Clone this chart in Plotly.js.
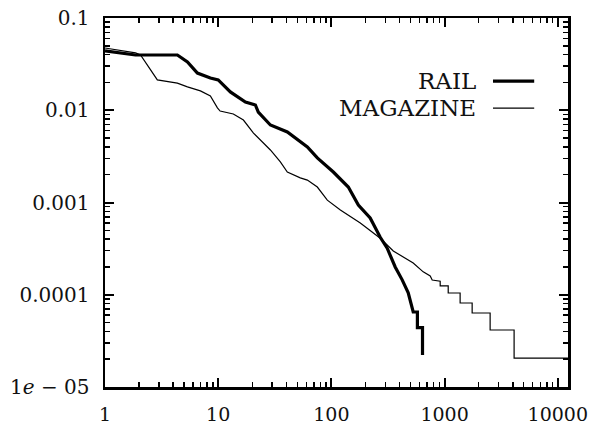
<!DOCTYPE html>
<html>
<head>
<meta charset="utf-8">
<script src="https://cdn.plot.ly/plotly-3.0.1.min.js"></script>
<style>html,body{margin:0;padding:0;background:#fff;}#chart{width:593px;height:425px;}</style>
</head>
<body>
<div id="chart"></div>
<script>
const seriesNames = ["RAIL", "MAGAZINE"];
const railX = [1, 1.86, 4.36, 5.35, 6.55, 8.53, 10, 12.8, 17.4, 21.3, 22.6, 28.9, 40.8, 61.3, 75.1, 104, 141, 173, 220, 270, 311, 366, 422, 477, 528, 575, 575, 638, 638];
const railY = [0.044, 0.0397, 0.0397, 0.0334, 0.0253, 0.0224, 0.0213, 0.0158, 0.0123, 0.0114, 0.00957, 0.00692, 0.00581, 0.0040, 0.00304, 0.00214, 0.00147, 0.00094, 0.00068, 0.00042, 0.00032, 0.0002, 0.000145, 0.000105, 6.5e-5, 6.5e-5, 4.4e-5, 4.4e-5, 2.22e-5];
const magX = [1, 1.86, 2.06, 2.9, 4.36, 5.35, 6.96, 8.53, 9.84, 10.4, 13.6, 16.7, 20.5, 28.9, 35.4, 40.8, 53.1, 61.3, 75.1, 92, 120, 180, 270, 352, 528, 647, 746, 777, 914, 914, 1076, 1076, 1371, 1371, 1751, 1751, 2524, 2524, 4110, 4110, 12300];
const magY = [0.0473, 0.0418, 0.0397, 0.0213, 0.0197, 0.0179, 0.0162, 0.0143, 0.0106, 0.0098, 0.0091, 0.00783, 0.00566, 0.00371, 0.00275, 0.00214, 0.00185, 0.00175, 0.00147, 0.00106, 0.00083, 0.0006, 0.00041, 0.000298, 0.000221, 0.000177, 0.00016, 0.0001445, 0.00014, 0.0001245, 0.0001245, 0.0001045, 0.0001045, 8.14e-5, 8.14e-5, 6.34e-5, 6.34e-5, 4.15e-5, 4.15e-5, 2.06e-5, 2.06e-5];
const xTickVals = [1, 10, 100, 1000, 10000];
const xTickText = ["1", "10", "100", "1000", "10000"];
const yTickVals = [1e-5, 1e-4, 1e-3, 1e-2, 1e-1];
const yTickText = ["1<i>e</i> − 05", "0.0001", "0.001", "0.01", "0.1"];

function minorTicks(decades) {
  const out = [];
  decades.forEach(function (d) { for (let k = 2; k <= 9; k++) out.push(k * d); });
  return out;
}
const xMinor = minorTicks([1, 10, 100, 1000, 10000]);
const yMinor = minorTicks([1e-5, 1e-4, 1e-3, 1e-2]);

const traces = [
  {x: railX, y: railY, mode: "lines", name: seriesNames[0], line: {color: "#000", width: 3.2}, xaxis: "x", yaxis: "y"},
  {x: magX, y: magY, mode: "lines", name: seriesNames[1], line: {color: "#000", width: 1.2}, xaxis: "x2", yaxis: "y2"}
];
const xRange = [0, 4.09], yRange = [-5, -1];
function axis(extra, minorVals, fsize) {
  return Object.assign({
    type: "log", showgrid: false, zeroline: false, showline: true, linecolor: "#000", linewidth: 2.5,
    ticks: "inside", ticklen: 9, tickwidth: 2, tickcolor: "#000", tickmode: "array",
    minor: {ticks: "inside", ticklen: 5, tickwidth: 1.5, tickcolor: "#000", showgrid: false, tickmode: "array", tickvals: minorVals},
    tickfont: {family: "DejaVu Serif", size: fsize, color: "#111"}
  }, extra);
}
const layout = {
  width: 593, height: 425,
  margin: {l: 105, r: 25, t: 18, b: 38},
  paper_bgcolor: "#fff", plot_bgcolor: "#fff",
  showlegend: false,
  xaxis: axis({range: xRange, tickvals: xTickVals, ticktext: xTickText, ticklabelstandoff: 9}, xMinor, 19),
  yaxis: axis({range: yRange, tickvals: yTickVals, ticktext: yTickText, ticklabelstandoff: 9}, yMinor, 20),
  xaxis2: axis({range: xRange, tickvals: xTickVals, showticklabels: false, overlaying: "x", side: "top", anchor: "y2"}, xMinor, 19),
  yaxis2: axis({range: yRange, tickvals: yTickVals, showticklabels: false, overlaying: "y", side: "right", anchor: "x2"}, yMinor, 20),
  annotations: [
    {xref: "paper", yref: "paper", x: 0.806, y: 0.829, xanchor: "right", yanchor: "middle", text: seriesNames[0], showarrow: false, font: {family: "DejaVu Serif", size: 23, color: "#111"}},
    {xref: "paper", yref: "paper", x: 0.806, y: 0.756, xanchor: "right", yanchor: "middle", text: seriesNames[1], showarrow: false, font: {family: "DejaVu Serif", size: 23, color: "#111"}}
  ],
  shapes: [
    {type: "line", xref: "paper", yref: "paper", x0: 0.838, x1: 0.927, y0: 0.829, y1: 0.829, line: {color: "#000", width: 3.2}},
    {type: "line", xref: "paper", yref: "paper", x0: 0.838, x1: 0.927, y0: 0.756, y1: 0.756, line: {color: "#000", width: 1.2}}
  ]
};
Plotly.newPlot("chart", traces, layout, {staticPlot: true, displayModeBar: false});
</script>
</body>
</html>
